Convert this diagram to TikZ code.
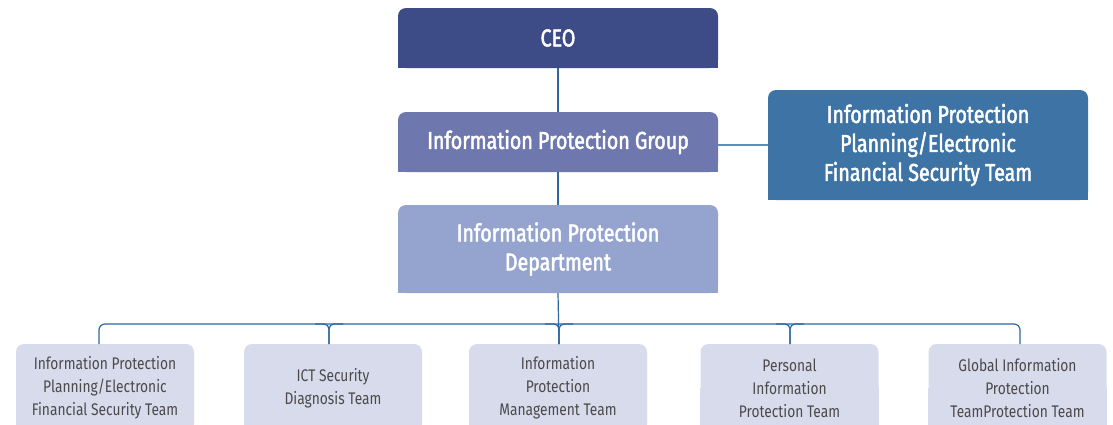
\documentclass[tikz,border=0pt]{standalone}
\usepackage{fontspec}
\setmainfont{Fira Sans}[FakeStretch=0.82]
\newfontfamily\headfont{Fira Sans}[FakeStretch=0.80, FakeBold=2]
\usetikzlibrary{backgrounds,calc}
\definecolor{ceoC}{HTML}{3D4B86}
\definecolor{grpC}{HTML}{6E78AE}
\definecolor{planC}{HTML}{3E73A5}
\definecolor{deptC}{HTML}{95A4CF}
\definecolor{teamC}{HTML}{D8DBEC}
\definecolor{teamT}{HTML}{4A4A4A}
\definecolor{lineC}{HTML}{2D67A0}
\definecolor{lineL}{HTML}{5A8EBC}
\newcommand{\sqbottom}[2]{%
  \begin{scope}[on background layer]
    \fill[#2] (#1.west) rectangle (#1.south east);
  \end{scope}}
\begin{document}
\begin{tikzpicture}[x=1pt,y=-1pt,
  hbox/.style={rounded corners=8pt, inner sep=0pt, align=center, text=white,
    minimum width=320pt, font=\headfont\fontsize{24.5}{29}\selectfont},
  tbox/.style={rounded corners=8pt, inner sep=0pt, align=center, text=teamT,
    fill=teamC, minimum width=178pt, minimum height=88pt,
    font=\fontsize{16.8}{23}\selectfont},
  conn/.style={draw=lineC, line width=1.2pt},
  connl/.style={draw=lineL, line width=1.2pt}]
\useasboundingbox (0,0) rectangle (1113,424);
\clip (0,0) rectangle (1113,424);

\node[hbox, fill=ceoC, minimum height=60pt] (ceo) at (558,38) {CEO};
\sqbottom{ceo}{ceoC}
\node[hbox, fill=grpC, minimum height=60pt] (grp) at (558,142) {Information Protection Group};
\sqbottom{grp}{grpC}
\node[hbox, fill=planC, minimum height=110pt] (plan) at (928,145)
  {Information Protection\\Planning/Electronic\\Financial Security Team};
\sqbottom{plan}{planC}
\node[hbox, fill=deptC, minimum height=88pt] (dept) at (558,249)
  {Information Protection\\Department};
\sqbottom{dept}{deptC}

\node[tbox] (t1) at (105,388) {Information Protection\\Planning/Electronic\\Financial Security Team};
\node[tbox] (t2) at (333,388) {ICT Security\\Diagnosis Team};
\node[tbox] (t3) at (558,388) {Information\\Protection\\Management Team};
\node[tbox] (t4) at (789.5,388) {Personal\\Information\\Protection Team};
\node[tbox] (t5) at (1017.5,388) {Global Information\\Protection\\TeamProtection Team};
\sqbottom{t1}{teamC}
\sqbottom{t2}{teamC}
\sqbottom{t3}{teamC}
\sqbottom{t4}{teamC}
\sqbottom{t5}{teamC}

\coordinate (bus) at (559,324);
\coordinate (d1) at (99,344);
\coordinate (d2) at (329,344);
\coordinate (d3) at (559,344);
\coordinate (d4) at (790,344);
\coordinate (d5) at (1020,344);

\draw[conn] (ceo.south) -- (grp.north);
\draw[conn] (grp.south) -- (dept.north);
\draw[connl] (plan.west) -- (plan.west -| grp.east);
\draw[conn] (dept.south) -- (d3);
\draw[conn, rounded corners=6pt] (d1) |- (bus) -| (d5);
\foreach \i in {2,3,4}{
  \draw[conn, rounded corners=5pt] ($(d\i|-bus)+(-14,0)$) -| (d\i);
  \draw[conn, rounded corners=5pt] ($(d\i|-bus)+(14,0)$) -| (d\i);
}
\end{tikzpicture}
\end{document}
